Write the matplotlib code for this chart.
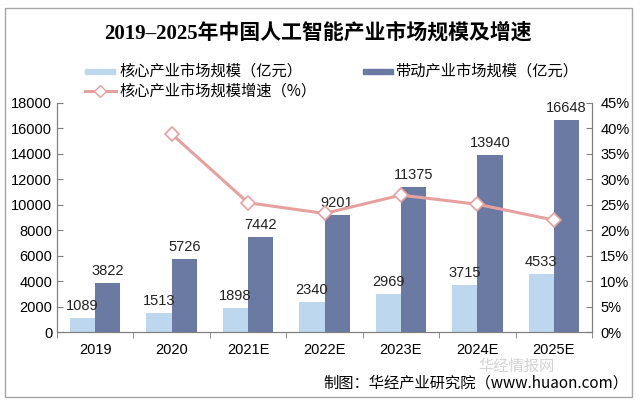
import matplotlib
matplotlib.use('Agg')
import matplotlib.pyplot as plt
import numpy as np
from matplotlib.patches import Rectangle
from matplotlib.lines import Line2D

plt.rcParams['font.family'] = ['Liberation Sans', 'Noto Sans CJK SC', 'DejaVu Sans']

# ---------------- datos ----------------
years = ['2019', '2020', '2021E', '2022E', '2023E', '2024E', '2025E']
core = [1089, 1513, 1898, 2340, 2969, 3715, 4533]
driven = [3822, 5726, 7442, 9201, 11375, 13940, 16648]
growth_years = ['2020', '2021E', '2022E', '2023E', '2024E', '2025E']
growth = [38.9, 25.4, 23.3, 26.9, 25.1, 22.0]

c_core = '#bdd7ee'
c_driven = '#6b7aa3'
c_line = '#e6a19e'
axis_c = '#7f7f7f'

fig = plt.figure(figsize=(6.4, 4.05), dpi=100)
fig.patches.append(Rectangle((5 / 640, 8 / 405), 627 / 640, 389 / 405, transform=fig.transFigure,
                             fill=False, edgecolor='#a6a6a6', linewidth=1))

ax = fig.add_axes([57 / 640, 1 - 332 / 405, 535 / 640, 229 / 405])
ax2 = ax.twinx()

x = np.arange(len(years))
w = 0.33
ax.bar(x - w / 2, core, width=w, color=c_core, zorder=2)
ax.bar(x + w / 2, driven, width=w, color=c_driven, zorder=2)
for xi, v in zip(x, core):
    ax.text(xi - w / 2, v + 400, str(v), ha='center', va='bottom', fontsize=10.5, color='#222222')
for xi, v in zip(x, driven):
    ax.text(xi + w / 2, v + 400, str(v), ha='center', va='bottom', fontsize=10.5, color='#222222')

gx = [years.index(y) for y in growth_years]
ax2.plot(gx, growth, color=c_line, linewidth=2.2, marker='D', markersize=7,
         markerfacecolor='white', markeredgecolor=c_line, markeredgewidth=1.2, zorder=5)

ax.set_xlim(-0.5, len(years) - 0.5)
ax.set_ylim(0, 18000)
ax.set_yticks(range(0, 18001, 2000))
ax2.set_ylim(0, 45)
ax2.set_yticks(range(0, 46, 5))
ax2.set_yticklabels([f'{v}%' for v in range(0, 46, 5)])

ax.set_xticks(x)
ax.set_xticklabels(years)
ax.set_xticks(np.arange(-0.5, len(years), 1), minor=True)
ax.tick_params(axis='x', which='major', length=0, pad=8, labelsize=10.5)
ax.tick_params(axis='x', which='minor', length=4, color=axis_c)
ax.tick_params(axis='y', length=4, color=axis_c, labelsize=10.5, direction='in')
ax2.tick_params(axis='y', length=4, color=axis_c, labelsize=10.5, direction='in', pad=6)
for a in (ax, ax2):
    a.spines['top'].set_visible(False)
    for s in ['left', 'right', 'bottom']:
        a.spines[s].set_color(axis_c)
ax.set_zorder(ax2.get_zorder() - 1)
ax2.patch.set_visible(False)

fig.text(0.497, 0.918, '2019–2025年中国人工智能产业市场规模及增速', ha='center', va='center',
         fontsize=15, fontweight='bold', family=['Liberation Serif', 'Noto Sans CJK SC'])

# leyenda manual
fig.patches.append(Rectangle((85 / 640, 1 - 74 / 405), 30 / 640, 5 / 405, transform=fig.transFigure,
                             color=c_core))
fig.text(119 / 640, 1 - 71 / 405, '核心产业市场规模（亿元）', va='center', fontsize=11,
         family=['Noto Sans CJK SC'])
fig.patches.append(Rectangle((363 / 640, 1 - 74 / 405), 30 / 640, 5 / 405, transform=fig.transFigure,
                             color=c_driven))
fig.text(395 / 640, 1 - 71 / 405, '带动产业市场规模（亿元）', va='center', fontsize=11,
         family=['Noto Sans CJK SC'])
fig.lines.append(Line2D([85 / 640, 116 / 640], [1 - 91 / 405, 1 - 91 / 405], transform=fig.transFigure,
                        color=c_line, linewidth=2.2, zorder=3))
fig.lines.append(Line2D([100 / 640], [1 - 91 / 405], transform=fig.transFigure, color=c_line,
                        marker='D', markersize=6, markerfacecolor='white', markeredgecolor=c_line,
                        linestyle='none', zorder=4))
fig.text(119 / 640, 1 - 91 / 405, '核心产业市场规模增速（%）', va='center', fontsize=11,
         family=['Noto Sans CJK SC'])

fig.text(478 / 640, 1 - 366 / 405, '华经情报网', va='center', fontsize=11, color='#c8c8c8',
         family=['Noto Sans CJK SC'], alpha=0.8)
fig.text(628 / 640, 1 - 383 / 405, '制图：华经产业研究院（www.huaon.com）', ha='right', va='center',
         fontsize=11, family=['Noto Sans CJK SC', 'DejaVu Sans'])

fig.savefig('out.png', dpi=100)
